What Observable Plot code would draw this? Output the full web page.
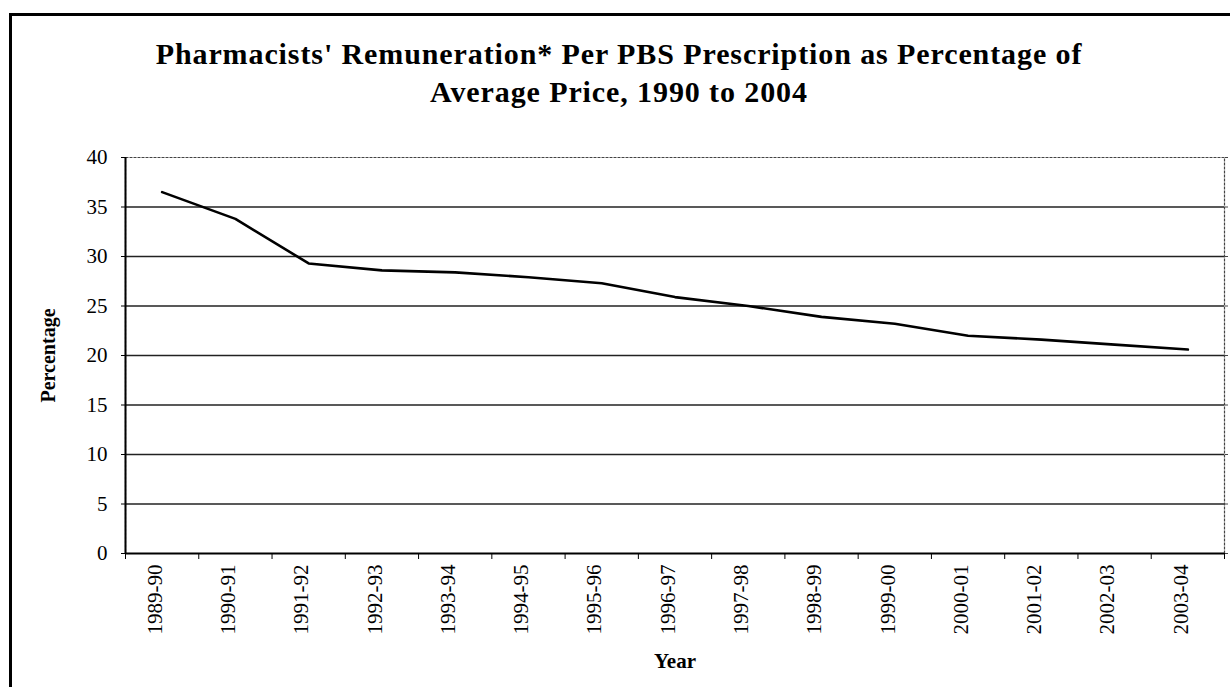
<!DOCTYPE html>
<html><head><meta charset="utf-8">
<script src="https://cdn.jsdelivr.net/npm/d3@7"></script>
<script src="https://cdn.jsdelivr.net/npm/@observablehq/plot@0.6"></script>
<style>
body{margin:0;background:#fff;}
#wrap{position:relative;width:1230px;height:687px;overflow:hidden;background:#fff;font-family:"Liberation Serif","Times New Roman",serif;}
#border{position:absolute;left:9px;top:13px;width:1300px;height:800px;border-left:3px solid #000;border-top:3px solid #000;}
#title{position:absolute;left:4px;width:1230px;top:35px;text-align:center;font-weight:bold;font-size:30px;line-height:38px;letter-spacing:0.9px;color:#000;}
#chart{position:absolute;left:0;top:0;}
</style></head><body>
<div id="wrap"><div id="border"></div><div id="chart"></div><div id="title"></div></div>
<script>
const titleLines = ["Pharmacists' Remuneration* Per PBS Prescription as Percentage of", "Average Price, 1990 to 2004"];
const years = ["1989-90","1990-91","1991-92","1992-93","1993-94","1994-95","1995-96","1996-97","1997-98","1998-99","1999-00","2000-01","2001-02","2002-03","2003-04"];
const percentages = [36.5, 33.8, 29.3, 28.6, 28.4, 27.9, 27.3, 25.9, 25.0, 23.9, 23.2, 22.0, 21.6, 21.1, 20.6];
const yTicks = [0, 5, 10, 15, 20, 25, 30, 35, 40];
const yLabel = "Percentage";
const xLabel = "Year";

document.getElementById("title").innerHTML = titleLines.join("<br>");

const data = years.map((year, i) => ({year, pos: i + 0.5, pct: percentages[i]}));
const boundaries = d3.range(years.length + 1);
const centers = data.map(d => d.pos);
const font = "'Liberation Serif','Times New Roman',serif";

const chart = Plot.plot({
  width: 1230,
  height: 687,
  marginTop: 157,
  marginBottom: 134,
  marginLeft: 125,
  marginRight: 6,
  style: {fontFamily: font, background: "transparent", color: "#000", overflow: "visible"},
  x: {domain: [0, years.length], axis: null},
  y: {domain: [0, 40], axis: null},
  marks: [
    Plot.ruleY(yTicks.filter(d => d > 0 && d < 40), {stroke: "#222", strokeWidth: 1.4}),
    Plot.frame({stroke: "#444", strokeWidth: 1.2, strokeDasharray: "3,1"}),
    Plot.axisY(yTicks, {anchor: "left", tickSize: 4, tickPadding: 14, fontSize: 21, label: null, stroke: "#000"}),
    Plot.axisY(yTicks, {anchor: "right", tickSize: 3, tickFormat: () => "", label: null, stroke: "#444"}),
    Plot.axisX(boundaries, {anchor: "bottom", tickSize: 6, tickFormat: () => "", label: null, stroke: "#000"}),
    Plot.axisX(centers, {anchor: "bottom", tickSize: 0, tickPadding: 11, tickRotate: -90, fontSize: 21, dx: -7,
      tickFormat: d => years[Math.floor(d)], label: null}),
    Plot.ruleX([0], {stroke: "#000", strokeWidth: 2}),
    Plot.ruleY([0], {stroke: "#000", strokeWidth: 2}),
    Plot.line(data, {x: "pos", y: "pct", stroke: "#000", strokeWidth: 2.6, strokeLinejoin: "round"}),
    Plot.text([yLabel], {frameAnchor: "left", rotate: -90, dx: -77, textAnchor: "middle", text: d => d, fontSize: 20, fontWeight: "bold", fill: "#000"}),
    Plot.text([xLabel], {frameAnchor: "bottom", dy: 114, text: d => d, fontSize: 21, fontWeight: "bold", fill: "#000"})
  ]
});
document.getElementById("chart").appendChild(chart);
</script>
</body></html>
